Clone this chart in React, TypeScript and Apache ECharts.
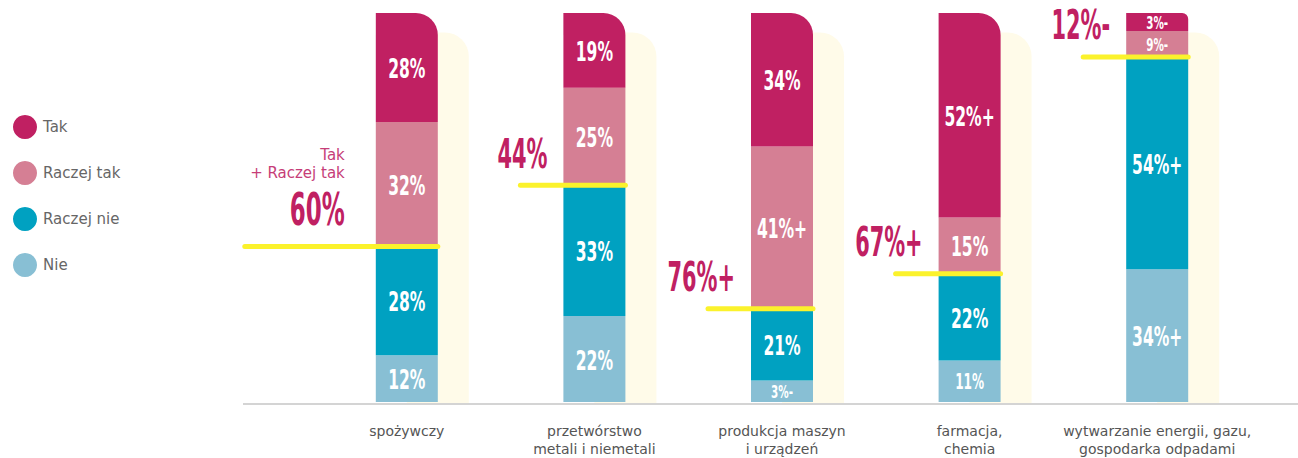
import React, { useEffect, useRef } from "react";
import * as echarts from "echarts";

const categories = [
  "spożywczy",
  "przetwórstwo\nmetali i niemetali",
  "produkcja maszyn\ni urządzeń",
  "farmacja,\nchemia",
  "wytwarzanie energii, gazu,\ngospodarka odpadami",
];
const seriesNames = ["Tak", "Raczej tak", "Raczej nie", "Nie"];

// segment sizes (percent of the bar)
const tak = [28, 19.2, 34.3, 52.6, 4.6];
const raczejTak = [32, 25.1, 41.7, 14.4, 6.7];
const raczejNie = [28, 33.6, 18.5, 22.3, 54.6];
const nie = [12, 22.1, 5.5, 10.7, 34.1];

// printed labels
const takLabels = ["28%", "19%", "34%", "52%+", "3%-"];
const raczejTakLabels = ["32%", "25%", "41%+", "15%", "9%-"];
const raczejNieLabels = ["28%", "33%", "21%", "22%", "54%+"];
const nieLabels = ["12%", "22%", "3%-", "11%", "34%+"];
const totalLabels = ["60%", "44%", "76%+", "67%+", "12%-"];
const totalCaption = "Tak\n+ Raczej tak";
const backdropValue = 95;

const C_TAK = "#c02062";
const C_RTAK = "#d57f94";
const C_RNIE = "#00a1c1";
const C_NIE = "#88bfd4";
const C_YELLOW = "#fbf22c";
const C_BACK = "#fffbe9";
const NUM_FONT = '"DejaVu Sans Condensed", "DejaVu Sans", sans-serif';
const TXT_FONT = '"DejaVu Sans", sans-serif';

export default function App() {
  const ref = useRef<HTMLDivElement>(null);
  useEffect(() => {
    if (!ref.current) return;
    const chart = echarts.init(ref.current, undefined, { renderer: "svg" });

    const segData: number[][] = [];
    const segText: string[] = [];
    const stackOrder = [
      [nie, nieLabels],
      [raczejNie, raczejNieLabels],
      [raczejTak, raczejTakLabels],
      [tak, takLabels],
    ] as [number[], string[]][];
    categories.forEach((_, i) => {
      let base = 0;
      stackOrder.forEach(([vals, labs]) => {
        segData.push([i, base + vals[i] / 2, vals[i]]);
        segText.push(labs[i]);
        base += vals[i];
      });
    });

    const totalData = categories.map((_, i) => [i, nie[i] + raczejNie[i]]);

    const option: any = {
      animation: false,
      legend: {
        data: seriesNames,
        selectedMode: false,
        orient: "vertical",
        left: 8,
        top: 110,
        icon: "circle",
        itemWidth: 24,
        itemHeight: 24,
        itemGap: 22,
        textStyle: { fontSize: 15, color: "#666", fontFamily: TXT_FONT, padding: [0, 0, 0, 1] },
      },
      grid: [
        { left: 313, right: 47, top: 13, bottom: 55 },
        { left: 344, right: 16, top: 13, bottom: 55 },
      ],
      xAxis: [
        {
          type: "category",
          gridIndex: 0,
          data: categories,
          axisTick: { show: false },
          axisLine: { show: false },
          axisLabel: {
            interval: 0,
            color: "#555",
            fontSize: 14,
            fontFamily: TXT_FONT,
            lineHeight: 18,
            margin: 20,
          },
        },
        { type: "category", gridIndex: 1, data: categories, show: false },
      ],
      yAxis: [
        { type: "value", gridIndex: 0, min: 0, max: 100, show: false },
        { type: "value", gridIndex: 1, min: 0, max: 100, show: false },
      ],
      series: [
        {
          name: "backdrop",
          type: "bar",
          xAxisIndex: 1,
          yAxisIndex: 1,
          barWidth: 62,
          z: 1,
          data: categories.map(() => backdropValue),
          itemStyle: { color: C_BACK, borderRadius: [0, 24, 0, 0] },
          silent: true,
        },
        { name: "Nie", type: "bar", stack: "s", barWidth: 62, z: 2, data: nie, itemStyle: { color: C_NIE } },
        { name: "Raczej nie", type: "bar", stack: "s", barWidth: 62, z: 2, data: raczejNie, itemStyle: { color: C_RNIE } },
        { name: "Raczej tak", type: "bar", stack: "s", barWidth: 62, z: 2, data: raczejTak, itemStyle: { color: C_RTAK } },
        {
          name: "Tak",
          type: "bar",
          stack: "s",
          barWidth: 62,
          z: 2,
          data: tak.map((v) =>
            v < 8 ? { value: v, itemStyle: { borderRadius: [0, 6, 0, 0] } } : v
          ),
          itemStyle: { color: C_TAK, borderRadius: [0, 22, 0, 0] },
        },
        {
          name: "segLabels",
          type: "custom",
          z: 10,
          silent: true,
          data: segData,
          renderItem: (params: any, api: any) => {
            const p = api.coord([api.value(0), api.value(1)]);
            const h = api.size([0, api.value(2)])[1];
            const fs = h >= 45 ? 27 : h >= 35 ? 21 : 18;
            return {
              type: "text",
              x: p[0],
              y: p[1] + 1,
              scaleX: 0.64,
              style: {
                text: segText[params.dataIndex],
                fill: "#fff",
                fontSize: fs,
                fontWeight: "bold",
                fontFamily: NUM_FONT,
                align: "center",
                verticalAlign: "middle",
              },
            };
          },
        },
        {
          name: "totals",
          type: "custom",
          z: 11,
          silent: true,
          data: totalData,
          renderItem: (params: any, api: any) => {
            const i = params.dataIndex;
            const p = api.coord([api.value(0), api.value(1)]);
            const cx = p[0];
            const y = p[1];
            const first = i === 0;
            const children: any[] = [
              {
                type: "line",
                shape: { x1: first ? cx - 162 : cx - 74, y1: y, x2: cx + 31, y2: y },
                style: { stroke: C_YELLOW, lineWidth: 5, lineCap: "round" },
              },
              {
                type: "text",
                x: first ? cx - 62 : cx - 47,
                y: first ? y - 37 : y - 31,
                scaleX: 0.58,
                style: {
                  text: totalLabels[i],
                  fill: C_TAK,
                  fontSize: first ? 44 : 40,
                  fontWeight: "bold",
                  fontFamily: NUM_FONT,
                  align: "right",
                  verticalAlign: "middle",
                },
              },
            ];
            if (first) {
              children.push({
                type: "text",
                x: cx - 62,
                y: y - 82,
                style: {
                  text: totalCaption,
                  fill: "#c63d78",
                  fontSize: 15,
                  lineHeight: 18,
                  fontFamily: TXT_FONT,
                  align: "right",
                  verticalAlign: "middle",
                },
              });
            }
            return { type: "group", children };
          },
        },
      ],
      graphic: [
        {
          type: "line",
          z: 20,
          shape: { x1: 243, y1: 404, x2: 1298, y2: 404 },
          style: { stroke: "#d4d4d4", lineWidth: 2 },
        },
      ],
    };
    chart.setOption(option);
    return () => chart.dispose();
  }, []);
  return (
    <div
      ref={ref}
      style={{ position: "absolute", left: 0, top: 0, width: 1298, height: 458, background: "#fff" }}
    />
  );
}
